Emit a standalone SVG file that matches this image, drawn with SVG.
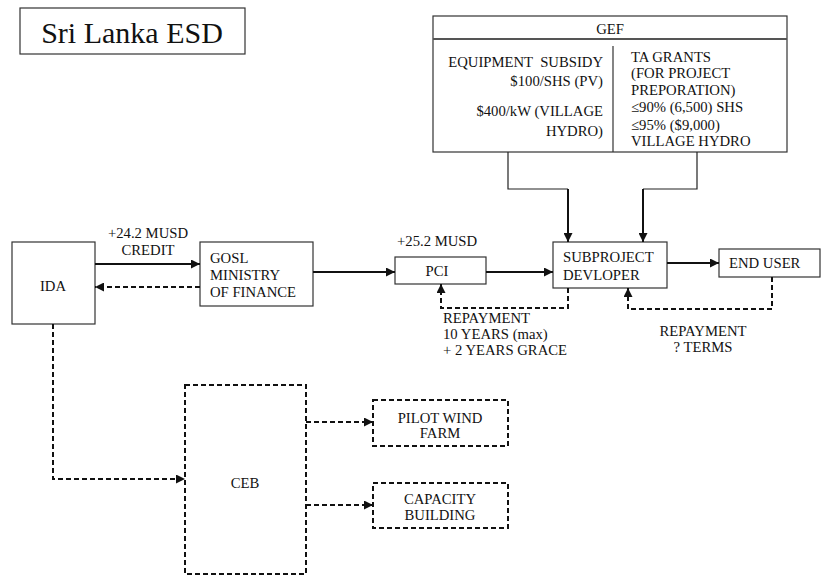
<svg xmlns="http://www.w3.org/2000/svg" width="829" height="576" viewBox="0 0 829 576">
<style>
.box{fill:#fff;stroke:#333;stroke-width:1.2}
.dbox{fill:#fff;stroke:#111;stroke-width:2;stroke-dasharray:5 3}
.sol{fill:none;stroke:#111;stroke-width:2}
.thin{fill:none;stroke:#222;stroke-width:1.2}
.dash{fill:none;stroke:#111;stroke-width:2;stroke-dasharray:5 3}
.c{text-anchor:middle}
.r{text-anchor:end}
</style>
<defs>
<marker id="ah" viewBox="0 0 10 10" refX="10" refY="5" markerWidth="9" markerHeight="9" markerUnits="userSpaceOnUse" orient="auto">
<path d="M0,0 L10,5 L0,10 Z" fill="#111"/>
</marker>
</defs>
<rect width="829" height="576" fill="#fff"/>
<g font-family="Liberation Serif" font-size="14.7" fill="#111">
<g id="title">
<rect class="box" x="20" y="8" width="225" height="46"/>
<text x="132" y="43" class="c" font-size="30">Sri Lanka ESD</text>
</g>
<g id="gef">
<rect class="box" x="433" y="16" width="354" height="136"/>
<line x1="433" y1="39" x2="787" y2="39" stroke="#555" stroke-width="2"/>
<line class="box" x1="613" y1="46" x2="613" y2="152"/>
<text x="610" y="34" class="c">GEF</text>
<text x="603" y="67" class="r" xml:space="preserve">EQUIPMENT  SUBSIDY</text>
<text x="603" y="86" class="r">$100/SHS (PV)</text>
<text x="603" y="116" class="r">$400/kW (VILLAGE</text>
<text x="603" y="136" class="r">HYDRO)</text>
<text x="631" y="62">TA GRANTS</text>
<text x="631" y="78">(FOR PROJECT</text>
<text x="631" y="95">PREPORATION)</text>
<text x="631" y="112">≤90% (6,500) SHS</text>
<text x="631" y="130">≤95% ($9,000)</text>
<text x="631" y="146">VILLAGE HYDRO</text>
</g>
<g id="ida">
<rect class="box" x="12" y="242" width="83" height="82"/>
<text x="53" y="291" class="c">IDA</text>
</g>
<g id="gosl">
<rect class="box" x="200" y="242" width="113" height="64"/>
<text x="210" y="263">GOSL</text>
<text x="210" y="280">MINISTRY</text>
<text x="210" y="297">OF FINANCE</text>
</g>
<g id="pci">
<rect class="box" x="395" y="257" width="91" height="27"/>
<text x="437" y="276" class="c">PCI</text>
</g>
<g id="subproject">
<rect class="box" x="553" y="242" width="114" height="46"/>
<text x="563" y="262">SUBPROJECT</text>
<text x="563" y="280">DEVLOPER</text>
</g>
<g id="enduser">
<rect class="box" x="719" y="249" width="101" height="28"/>
<text x="729" y="268">END USER</text>
</g>
<g id="ceb">
<rect class="dbox" x="185" y="385" width="121" height="189"/>
<text x="245" y="488" class="c">CEB</text>
</g>
<g id="pilot">
<rect class="dbox" x="373" y="400" width="135" height="46"/>
<text x="440" y="423" class="c">PILOT WIND</text>
<text x="440" y="438" class="c">FARM</text>
</g>
<g id="capacity">
<rect class="dbox" x="373" y="483" width="135" height="45"/>
<text x="440" y="504" class="c">CAPACITY</text>
<text x="440" y="520" class="c">BUILDING</text>
</g>
<g id="connectors">
<path class="thin" d="M508,152 V189 H568"/>
<path class="sol" d="M568,189 V242" marker-end="url(#ah)"/>
<path class="thin" d="M697,152 V189 H643"/>
<path class="sol" d="M643,189 V242" marker-end="url(#ah)"/>
<path class="sol" d="M95,264 H200" marker-end="url(#ah)"/>
<path class="dash" d="M200,287 H95" marker-end="url(#ah)"/>
<path class="sol" d="M313,272 H395" marker-end="url(#ah)"/>
<path class="sol" d="M486,272 H553" marker-end="url(#ah)"/>
<path class="sol" d="M667,263 H719" marker-end="url(#ah)"/>
<path class="dash" d="M568,288 V308 H441 V284" marker-end="url(#ah)"/>
<path class="dash" d="M772,277 V309 H628 V288" marker-end="url(#ah)"/>
<path class="dash" d="M53,324 V479 H185" marker-end="url(#ah)"/>
<path class="dash" d="M306,422 H373" marker-end="url(#ah)"/>
<path class="dash" d="M306,505 H373" marker-end="url(#ah)"/>
<text x="148" y="238" class="c">+24.2 MUSD</text>
<text x="148" y="255" class="c">CREDIT</text>
<text x="397" y="246">+25.2 MUSD</text>
<text x="443" y="323">REPAYMENT</text>
<text x="443" y="339">10 YEARS (max)</text>
<text x="443" y="355">+ 2 YEARS GRACE</text>
<text x="703" y="336" class="c">REPAYMENT</text>
<text x="703" y="352" class="c">? TERMS</text>
</g>
</g>
</svg>
